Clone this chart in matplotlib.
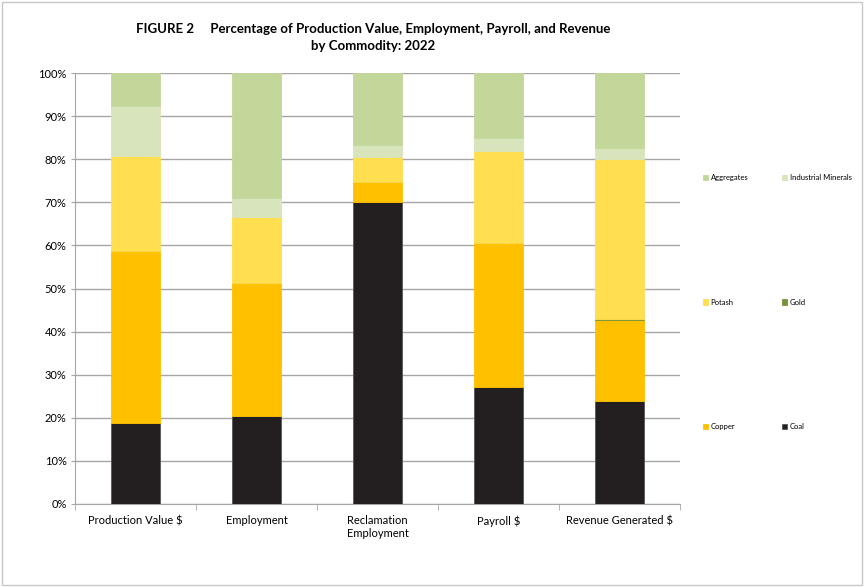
import numpy as np
import matplotlib.pyplot as plt
from matplotlib.patches import Rectangle

categories = ["Production Value $", "Employment", "Reclamation\nEmployment", "Payroll $", "Revenue Generated $"]

# percent shares per commodity, stacked bottom to top
coal = [18.7, 20.4, 70.0, 27.1, 23.8]
copper = [40.1, 30.8, 4.6, 33.5, 18.8]
gold = [0.0, 0.0, 0.0, 0.0, 0.4]
potash = [22.0, 15.5, 5.8, 21.4, 37.1]
industrial_minerals = [11.6, 4.3, 3.0, 3.0, 2.6]
aggregates = [7.6, 29.0, 16.6, 15.0, 17.3]

series = [
    ("Coal", coal, "#231f20"),
    ("Copper", copper, "#ffc000"),
    ("Gold", gold, "#76933c"),
    ("Potash", potash, "#ffdf4f"),
    ("Industrial Minerals", industrial_minerals, "#d8e4bc"),
    ("Aggregates", aggregates, "#c4d79b"),
]

plt.rcParams["font.family"] = ["Lato", "DejaVu Sans"]

fig = plt.figure(figsize=(8.65, 5.87), dpi=100)
ax = fig.add_axes([0.0867, 0.1414, 0.6995, 0.7342])

x = np.arange(len(categories))
bottom = np.zeros(len(categories))
handles = {}
for name, vals, color in series:
    vals = np.array(vals)
    edge = "#555555" if name == "Coal" else color
    bars = ax.bar(x, vals, width=0.4, bottom=bottom, color=color,
                  edgecolor=edge, linewidth=0.6, label=name, zorder=3)
    handles[name] = bars
    bottom += vals

ax.set_xlim(-0.5, len(categories) - 0.5)
ax.set_ylim(0, 100)
ax.set_yticks(np.arange(0, 101, 10))
ax.set_yticklabels([f"{v}%" for v in range(0, 101, 10)], fontsize=8)
ax.yaxis.grid(True, color="#a6a6a6", linewidth=1.0, zorder=0)
ax.set_axisbelow(True)

ax.set_xticks(x)
ax.set_xticklabels(categories, fontsize=8)
ax.set_xticks(np.arange(-0.5, len(categories)), minor=True)
ax.tick_params(axis="x", which="major", length=0, pad=8)
ax.tick_params(axis="x", which="minor", length=4, color="#a6a6a6")
ax.tick_params(axis="y", length=3, color="#a6a6a6", pad=3)

for side in ["top", "right"]:
    ax.spines[side].set_visible(False)
for side in ["left", "bottom"]:
    ax.spines[side].set_color("#a6a6a6")

fig.text(0.431, 0.951, "FIGURE 2     Percentage of Production Value, Employment, Payroll, and Revenue",
         ha="center", va="center", fontsize=9.5, fontweight="bold")
fig.text(0.431, 0.921, "by Commodity: 2022", ha="center", va="center",
         fontsize=9.5, fontweight="bold")

order = ["Aggregates", "Potash", "Copper", "Industrial Minerals", "Gold", "Coal"]
fig.legend([handles[n] for n in order], order, ncol=2, frameon=False,
           loc="upper left", bbox_to_anchor=(703 / 865, 1 - 174 / 587),
           fontsize=5.5, handlelength=0.7, handleheight=0.7, handletextpad=0.3,
           labelspacing=15.4, columnspacing=4.4, borderpad=0, borderaxespad=0)

fig.patches.append(Rectangle((0.002, 0.003), 0.995, 0.994, transform=fig.transFigure,
                             fill=False, edgecolor="#c8c8c8", linewidth=1.0))

fig.savefig("out.png", dpi=100)
